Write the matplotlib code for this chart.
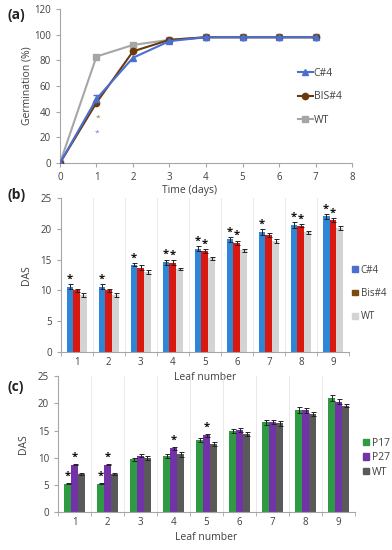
import numpy as np
import matplotlib.pyplot as plt
from matplotlib.patches import Patch

plt.rcParams['font.family'] = ['Open Sans', 'DejaVu Sans']

# (a) germination
days = [0, 1, 2, 3, 4, 5, 6, 7]
germ_c4 = [0, 50, 82, 95, 98, 98, 98, 98]
germ_bis4 = [0, 47, 87, 96, 98, 98, 98, 98]
germ_wt = [0, 83, 92, 96, 98, 98, 98, 98]

# (b) DAS per leaf
leaves = [1, 2, 3, 4, 5, 6, 7, 8, 9]
das_c4 = [10.6, 10.6, 14.2, 14.6, 16.8, 18.3, 19.5, 20.6, 22.0]
das_bis4 = [10.0, 10.0, 13.7, 14.5, 16.4, 17.7, 19.0, 20.5, 21.4]
das_wt_b = [9.2, 9.2, 13.0, 13.5, 15.2, 16.5, 18.0, 19.4, 20.1]
err_c4 = [0.4, 0.4, 0.3, 0.4, 0.4, 0.4, 0.5, 0.5, 0.4]
err_bis4 = [0.3, 0.3, 0.4, 0.4, 0.3, 0.4, 0.3, 0.2, 0.3]
err_wt_b = [0.3, 0.3, 0.3, 0.2, 0.2, 0.3, 0.3, 0.3, 0.3]
star_c4 = [1, 1, 1, 1, 1, 1, 1, 1, 1]
star_bis4 = [0, 0, 0, 1, 1, 1, 0, 1, 1]

# (c) DAS per leaf
das_p17 = [5.2, 5.2, 9.7, 10.3, 13.3, 14.9, 16.5, 18.8, 21.0]
das_p27 = [8.7, 8.7, 10.4, 11.7, 14.1, 15.1, 16.6, 18.7, 20.3]
das_wt_c = [7.0, 7.0, 9.9, 10.6, 12.5, 14.4, 16.3, 18.0, 19.6]
err_p17 = [0.1, 0.1, 0.3, 0.3, 0.4, 0.3, 0.4, 0.6, 0.5]
err_p27 = [0.1, 0.1, 0.2, 0.3, 0.3, 0.3, 0.4, 0.4, 0.5]
err_wt_c = [0.1, 0.1, 0.4, 0.5, 0.3, 0.4, 0.4, 0.4, 0.3]
star_p17 = [1, 1, 0, 0, 0, 0, 0, 0, 0]
star_p27 = [1, 1, 0, 1, 1, 0, 0, 0, 0]

txt = '#404040'
spine = '#a6a6a6'


def style(ax):
    for s in ['top', 'right']:
        ax.spines[s].set_visible(False)
    for s in ['left', 'bottom']:
        ax.spines[s].set_color(spine)
        ax.spines[s].set_linewidth(0.8)
    ax.tick_params(colors=spine, labelcolor=txt, labelsize=7, length=3, width=0.8)


fig = plt.figure(figsize=(3.92, 5.5), dpi=100)

# ---- (a)
ax = fig.add_axes([0.153, 0.7036, 0.745, 0.28])
ax.plot(days, germ_wt, color='#a6a6a6', marker='s', ms=4.5, lw=1.5, label='WT', zorder=2)
ax.plot(days, germ_bis4, color='#6b3a0a', marker='o', ms=4.5, lw=1.5, label='BIS#4', zorder=3)
ax.plot(days, germ_c4, color='#4a6fd0', marker='^', ms=4.5, lw=1.5, label='C#4', zorder=4)
ax.errorbar([1], [germ_c4[1]], yerr=[3], fmt='none', ecolor='#4a6fd0', lw=0.8, capsize=2)
ax.text(1.0, 22, '*', color='#6a7ad0', fontsize=6, ha='center')
ax.text(1.05, 34, '*', color='#a07840', fontsize=6, ha='center')
ax.set_xlim(0, 8)
ax.set_ylim(0, 120)
ax.set_xticks(range(9))
ax.set_yticks(range(0, 121, 20))
style(ax)
ax.set_xlabel('Time (days)', fontsize=7.5, color=txt)
ax.xaxis.set_label_coords(0.445, -0.145)
ax.set_ylabel('Germination (%)', fontsize=7.5, color=txt, labelpad=1)
h, l = ax.get_legend_handles_labels()
ax.legend(h[::-1], l[::-1], loc='center left', bbox_to_anchor=(0.815, 0.43), frameon=False,
          fontsize=7.5, labelcolor=txt, handlelength=1.4, labelspacing=1.2, handletextpad=0.1,
          borderpad=0, borderaxespad=0)
fig.text(0.018, 0.973, '(a)', fontsize=10, fontweight='bold', color='#222222', va='center')

x = np.arange(1, 10)
w = 0.21


def bars(ax, vals, errs, colors, stars, star_off):
    for i, (v, e, c) in enumerate(zip(vals, errs, colors)):
        ax.bar(x + (i - 1) * w, v, width=w, color=c, zorder=2)
        ax.errorbar(x + (i - 1) * w, v, yerr=e, fmt='none', ecolor='#222222',
                    lw=0.7, capsize=1.8, capthick=0.7, zorder=3)
    for i, st in stars:
        for j in range(9):
            if st[j]:
                ax.text(x[j] + (i - 1) * w, vals[i][j] + errs[i][j] + star_off, '*',
                        ha='center', va='center', fontsize=8, fontweight='bold',
                        color='#111111', zorder=4)
    ax.set_xlim(0.5, 9.5)
    ax.set_ylim(0, 25)
    ax.set_yticks(range(0, 26, 5))
    ax.set_xticks(np.arange(0.5, 10, 1), minor=True)
    ax.set_xticks(x)
    ax.grid(axis='x', which='minor', color='#e6e6e6', lw=0.6, zorder=0)
    style(ax)
    ax.tick_params(axis='x', which='minor', length=3, color=spine)
    ax.tick_params(axis='x', which='major', length=0)


# ---- (b)
ax = fig.add_axes([0.155, 0.36, 0.735, 0.28])
bars(ax, [das_c4, das_bis4, das_wt_b], [err_c4, err_bis4, err_wt_b],
     ['#2f86d6', '#d9190f', '#d3d3d3'], [(0, star_c4), (1, star_bis4)], 0.8)
ax.set_xlabel('Leaf number', fontsize=7.5, color=txt, labelpad=3)
ax.set_ylabel('DAS', fontsize=7.5, color=txt, labelpad=6)
hb = [Patch(color='#4a6fd0'), Patch(color='#7b4a10'), Patch(color='#d3d3d3')]
ax.legend(hb, ['C#4', 'Bis#4', 'WT'], loc='center left', bbox_to_anchor=(1.012, 0.38),
          frameon=False, fontsize=7, labelcolor=txt, handlelength=0.55, handleheight=0.55,
          labelspacing=1.25, handletextpad=0.3, borderpad=0, borderaxespad=0)
fig.text(0.018, 0.645, '(b)', fontsize=10, fontweight='bold', color='#222222', va='center')

# ---- (c)
ax = fig.add_axes([0.148, 0.069, 0.758, 0.247])
ax.patch.set_alpha(0)
bars(ax, [das_p17, das_p27, das_wt_c], [err_p17, err_p27, err_wt_c],
     ['#2e9a42', '#7232a8', '#595959'], [(0, star_p17), (1, star_p27)], 1.3)
ax.set_xlabel('Leaf number', fontsize=7.5, color=txt, labelpad=3)
ax.set_ylabel('DAS', fontsize=7.5, color=txt, labelpad=6)
hc = [Patch(color='#2e9a42'), Patch(color='#7232a8'), Patch(color='#595959')]
ax.legend(hc, ['P17', 'P27', 'WT'], loc='center left', bbox_to_anchor=(1.027, 0.40),
          frameon=False, fontsize=7.5, labelcolor=txt, handlelength=0.55, handleheight=0.55,
          labelspacing=0.35, handletextpad=0.3, borderpad=0, borderaxespad=0)
fig.text(0.018, 0.296, '(c)', fontsize=10, fontweight='bold', color='#222222', va='center')

fig.savefig('out.png', dpi=100)
